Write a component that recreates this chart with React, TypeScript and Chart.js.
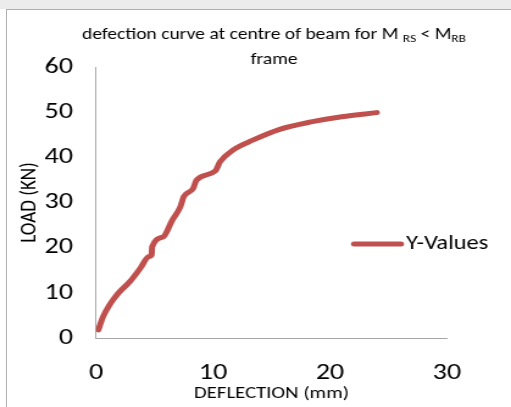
import React, { useEffect, useRef } from "react";
import { Chart, registerables } from "chart.js";

Chart.register(...registerables);

const deflection = [0.2, 0.6, 1.2, 1.9, 2.9, 3.8, 4.5, 4.75, 4.8, 5.75, 6.5, 7.2, 7.5, 8.3, 8.6, 10.2, 10.6, 11.7, 13.4, 15.7, 18.5, 21, 24.0];
const load = [1.8, 4.7, 7.5, 9.9, 12.5, 15.5, 18, 18.4, 20.2, 22.4, 26, 29, 31.3, 33.1, 35, 37, 39, 41.6, 43.8, 46.2, 47.9, 49, 49.9];
const seriesName = "Y-Values";
const titleMain = "defection curve at centre of beam for M ";
const titleSub1 = "RS";
const titleMid = " < M";
const titleSub2 = "RB";
const titleLine2 = "frame";
const xTitle = "DEFLECTION (mm)";
const yTitle = "LOAD (KN)";

const FONT = "Carlito, Lato, 'Open Sans', sans-serif";
const RED = "#c0504d";

// The reference picture is horizontally stretched; draw on a narrower canvas and stretch it.
const OUT_W = 511;
const OUT_H = 407;
const IN_W = 419;
const S = OUT_W / IN_W;
const px = (x: number) => x / S;

const titlePlugin = {
  id: "customTitle",
  afterDraw(chart: any) {
    const ctx = chart.ctx;
    ctx.save();
    ctx.fillStyle = "#000";
    ctx.textBaseline = "middle";
    const big = `16px ${FONT}`;
    const small = `11px ${FONT}`;
    const parts = [
      { t: titleMain, f: big, dy: 0 },
      { t: titleSub1, f: small, dy: 4 },
      { t: titleMid, f: big, dy: 0 },
      { t: titleSub2, f: small, dy: 4 },
    ];
    let total = 0;
    for (const p of parts) {
      ctx.font = p.f;
      total += ctx.measureText(p.t).width;
    }
    const cx = px(274);
    let x = cx - total / 2;
    ctx.textAlign = "left";
    for (const p of parts) {
      ctx.font = p.f;
      ctx.fillText(p.t, x, 35 + p.dy);
      x += ctx.measureText(p.t).width;
    }
    ctx.font = big;
    ctx.textAlign = "center";
    ctx.fillText(titleLine2, cx, 60);
    ctx.restore();
  },
};

const legendPlugin = {
  id: "customLegend",
  afterDraw(chart: any) {
    const ctx = chart.ctx;
    const ds = chart.data.datasets[0];
    ctx.save();
    ctx.strokeStyle = ds.borderColor;
    ctx.lineWidth = 5;
    ctx.lineCap = "round";
    ctx.beginPath();
    ctx.moveTo(px(354), 244);
    ctx.lineTo(px(401), 244);
    ctx.stroke();
    ctx.fillStyle = "#000";
    ctx.font = `20px ${FONT}`;
    ctx.textAlign = "left";
    ctx.textBaseline = "middle";
    ctx.fillText(ds.label, px(406), 244);
    ctx.restore();
  },
};

export default function App() {
  const ref = useRef<HTMLCanvasElement | null>(null);
  useEffect(() => {
    if (!ref.current) return;
    const chart = new Chart(ref.current, {
      type: "scatter",
      data: {
        datasets: [
          {
            label: seriesName,
            data: deflection.map((x, i) => ({ x, y: load[i] })),
            showLine: true,
            borderColor: RED,
            backgroundColor: RED,
            borderWidth: 5,
            borderCapStyle: "round",
            borderJoinStyle: "round",
            pointRadius: 0,
            cubicInterpolationMode: "monotone",
          } as any,
        ],
      },
      options: {
        animation: false,
        responsive: false,
        events: [],
        layout: { padding: { top: 67, right: IN_W - px(447), left: 0, bottom: 0 } },
        plugins: {
          legend: { display: false },
          title: { display: false },
          tooltip: { enabled: false },
        },
        scales: {
          x: {
            type: "linear",
            min: 0,
            max: 30,
            ticks: { stepSize: 10, padding: 21, color: "#000", font: { size: 23, family: FONT } },
            grid: { display: false, drawTicks: false },
            border: { display: true, color: "#a6a6a6", width: 1 },
            title: { display: true, text: xTitle, color: "#000", font: { size: 17, family: FONT }, padding: { top: 0, bottom: 3 } },
            afterFit: (s: any) => { s.height = 69; },
          },
          y: {
            type: "linear",
            min: 0,
            max: 60,
            ticks: { stepSize: 10, padding: px(96) - px(73), color: "#000", font: { size: 23, family: FONT } },
            grid: { display: false, drawTicks: false },
            border: { display: true, color: "#a6a6a6", width: 1 },
            title: { display: true, text: yTitle, color: "#000", font: { size: 19, family: FONT }, padding: { top: 13, bottom: 0 } },
            afterFit: (s: any) => { s.width = px(96); },
          },
        },
      },
      plugins: [titlePlugin, legendPlugin],
    });
    return () => chart.destroy();
  }, []);
  return (
    <div style={{ position: "fixed", left: 0, top: 0, width: OUT_W, height: OUT_H, background: "#fff", overflow: "hidden" }}>
      <div style={{ position: "absolute", left: 0, top: 0, width: OUT_W, height: 9, background: "#ececec" }} />
      <div style={{ position: "absolute", left: 6, top: 9, width: 600, height: 500, borderLeft: "1px solid #b0b0b0", borderTop: "1px solid #b0b0b0" }} />
      <canvas ref={ref} width={IN_W} height={OUT_H} style={{ position: "absolute", left: 0, top: 0, width: OUT_W, height: OUT_H }} />
    </div>
  );
}
